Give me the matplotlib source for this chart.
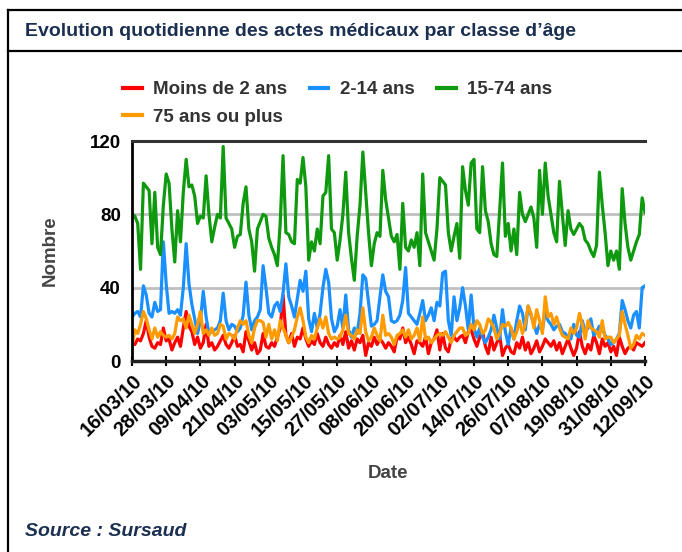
import matplotlib
matplotlib.use("Agg")
import matplotlib.pyplot as plt
from matplotlib.lines import Line2D
import numpy as np

# --- Données (une valeur par jour du 16/03/10 au 12/09/10) ---
debut = np.datetime64("2010-03-16")
fin = np.datetime64("2010-09-12")

moins_2_ans = [
    10, 9, 12, 11, 15, 22, 13, 8, 7, 10,
    9, 18, 11, 12, 6, 10, 13, 8, 18, 27,
    19, 16, 9, 13, 7, 10, 20, 8, 10, 6,
    8, 11, 14, 9, 7, 10, 14, 8, 9, 5,
    16, 11, 6, 10, 4, 6, 15, 8, 7, 10,
    8, 13, 18, 36, 14, 10, 15, 8, 13, 12,
    18, 12, 8, 11, 9, 15, 10, 8, 13, 9,
    7, 10, 8, 14, 9, 16, 7, 11, 6, 12,
    10, 14, 3, 10, 8, 13, 9, 12, 10, 7,
    10, 8, 5, 13, 12, 18, 10, 13, 9, 4,
    11, 10, 8, 13, 4, 10, 12, 17, 6, 15,
    7, 5, 12, 13, 11, 13, 14, 10, 16, 17,
    12, 8, 13, 16, 8, 4, 13, 6, 10, 14,
    3, 7, 9, 5, 4, 10, 7, 13, 6, 10,
    4, 7, 11, 5, 8, 12, 10, 8, 11, 6,
    10, 4, 8, 12, 7, 3, 7, 16, 8, 4,
    9, 6, 14, 10, 4, 12, 8, 10, 5, 8,
    3, 13, 8, 4, 7, 8, 6, 10, 9, 8, 10,
]
ans_2_14 = [
    24, 26, 27, 24, 41, 36, 26, 24, 32, 27,
    28, 65, 42, 26, 27, 26, 28, 25, 40, 64,
    42, 31, 23, 15, 22, 38, 24, 15, 16, 17,
    18, 22, 37, 22, 17, 20, 19, 16, 18, 25,
    43, 25, 17, 22, 24, 28, 52, 40, 26, 24,
    30, 32, 27, 37, 53, 35, 30, 24, 34, 44,
    38, 49, 23, 16, 26, 18, 26, 40, 50, 43,
    23, 16, 19, 28, 18, 36, 17, 13, 18, 15,
    26, 47, 45, 32, 19, 20, 22, 35, 47, 38,
    35, 22, 21, 22, 25, 33, 51, 26, 24, 22,
    20, 26, 33, 22, 25, 29, 22, 32, 30, 48,
    49, 22, 14, 35, 22, 29, 40, 30, 17, 36,
    18, 13, 18, 13, 10, 13, 17, 25, 18, 12,
    28, 16, 9, 18, 12, 22, 30, 26, 17, 30,
    25, 20, 15, 20, 17, 27, 22, 20, 17, 19,
    20, 16, 15, 13, 12, 20, 14, 13, 22, 16,
    18, 23, 14, 16, 19, 18, 14, 12, 9, 10,
    12, 15, 33, 28, 22, 18, 25, 27, 18, 40, 41,
]
ans_15_74 = [
    80, 79, 75, 50, 97, 95, 93, 64, 92, 62,
    58, 85, 102, 97, 72, 54, 82, 65, 92, 110,
    95, 96, 90, 75, 79, 78, 101, 80, 65, 73,
    80, 78, 117, 78, 75, 72, 62, 68, 69, 86,
    95, 72, 65, 49, 72, 76, 80, 79, 67, 62,
    58, 52, 75, 112, 70, 69, 65, 64, 99, 97,
    111, 95, 55, 65, 60, 72, 64, 90, 92, 112,
    72, 70, 55, 66, 80, 103, 70, 56, 44, 68,
    85, 114, 92, 70, 52, 64, 70, 68, 104, 88,
    78, 68, 65, 69, 50, 86, 62, 60, 66, 62,
    70, 52, 102, 70, 65, 60, 55, 72, 100, 98,
    96, 70, 60, 68, 75, 56, 106, 93, 85, 108,
    110, 72, 70, 106, 82, 76, 64, 58, 57, 82,
    108, 68, 75, 60, 72, 58, 92, 80, 76, 80,
    84, 78, 62, 104, 80, 108, 90, 80, 70, 65,
    98, 80, 63, 82, 72, 69, 72, 75, 73, 66,
    64, 60, 57, 63, 103, 85, 70, 52, 60, 55,
    60, 50, 94, 75, 62, 55, 60, 65, 69, 89, 81,
]
ans_75_plus = [
    8, 17, 15, 20, 27, 23, 17, 12, 18, 13,
    16, 14, 13, 14, 12, 15, 24, 22, 23, 18,
    25, 20, 15, 20, 27, 15, 17, 14, 18, 14,
    15, 20, 19, 12, 15, 14, 12, 18, 22, 20,
    22, 14, 10, 18, 22, 22, 21, 13, 20, 12,
    17, 11, 22, 18, 14, 10, 13, 17, 24, 29,
    22, 13, 10, 14, 12, 18, 23, 18, 24, 15,
    12, 13, 12, 13, 17, 25, 15, 14, 12, 17,
    15, 29, 16, 11, 13, 18, 14, 11, 25, 14,
    15, 13, 9, 14, 15, 17, 13, 17, 12, 14,
    18, 11, 24, 12, 13, 10, 12, 14, 15, 14,
    16, 13, 10, 14, 16, 18, 18, 14, 15, 20,
    17, 22, 20, 15, 17, 23, 21, 18, 12, 15,
    20, 19, 21, 18, 12, 16, 22, 15, 20, 30,
    26, 18, 28, 22, 15, 35, 24, 26, 20, 24,
    18, 14, 13, 12, 18, 15, 18, 26, 20, 12,
    22, 18, 17, 16, 13, 22, 12, 13, 13, 10,
    12, 14, 27, 20, 14, 7, 9, 14, 12, 15, 14,
]

series = [
    ("Moins de 2 ans", moins_2_ans, "#ff0000"),
    ("2-14 ans", ans_2_14, "#1a8fff"),
    ("15-74 ans", ans_15_74, "#0e990e"),
    ("75 ans ou plus", ans_75_plus, "#ff9a00"),
]

jours = np.arange(debut, fin + np.timedelta64(1, "D"))
x = np.arange(len(jours))
ticks = x[::12]
tick_labels = [str(j)[8:10] + "/" + str(j)[5:7] + "/" + str(j)[2:4] for j in jours[::12]]

plt.rcParams["font.family"] = ["Liberation Sans", "DejaVu Sans"]

W, H = 682, 552
fig = plt.figure(figsize=(W / 100, H / 100), dpi=100)

# cadre
fig.add_artist(Line2D([8 / W, 1], [1 - 10 / H] * 2, color="black", lw=1.6))
fig.add_artist(Line2D([8 / W, 1], [1 - 51 / H] * 2, color="black", lw=1.6))
fig.add_artist(Line2D([8 / W] * 2, [0, 1 - 10 / H], color="black", lw=1.6))

fig.text(25 / W, 1 - 31 / H, "Evolution quotidienne des actes médicaux par classe d\u2019âge",
         fontsize=14, fontweight="bold", color="#1b2f50", va="center", ha="left")
fig.text(25 / W, 1 - 531 / H, "Source : Sursaud", fontsize=14, fontweight="bold",
         fontstyle="italic", color="#1b2f50", va="center", ha="left")

ax = fig.add_axes([132 / W, 1 - 361 / H, (645 - 132) / W, (361 - 141) / H])

handles = {}
for nom, valeurs, couleur in series:
    (ligne,) = ax.plot(x, valeurs, color=couleur, lw=2.3, label=nom)
    handles[nom] = ligne

ax.set_xlim(0, len(x) - 1)
ax.set_ylim(0, 120)
ax.set_yticks([0, 40, 80, 120])
ax.set_xticks(ticks)
ax.set_xticklabels(tick_labels, rotation=45, ha="right", va="top", rotation_mode="anchor",
                   fontsize=14.5, fontweight="bold", color="black")
ax.tick_params(axis="x", direction="inout", length=7, width=1.5, pad=4)
ax.tick_params(axis="y", length=0, pad=8, labelsize=13.5, labelcolor="black")
for lab in ax.get_yticklabels():
    lab.set_fontweight("bold")

ax.grid(axis="y", color="#c0c0c0", lw=2)
ax.set_axisbelow(True)
ax.spines["right"].set_visible(False)
ax.spines["top"].set_color("#333333")
ax.spines["top"].set_linewidth(2.2)
ax.spines["left"].set_linewidth(2)
ax.spines["bottom"].set_linewidth(2.5)
ax.spines["bottom"].set_color("#222222")

ax.set_ylabel("Nombre", fontsize=13.5, fontweight="bold", color="#444444", labelpad=22)
fig.text(388 / W, 1 - 474 / H, "Date", fontsize=13.5, fontweight="bold", color="#444444",
         ha="center", va="center")

ordre = ["Moins de 2 ans", "75 ans ou plus", "2-14 ans", "15-74 ans"]
fig.legend([handles[n] for n in ordre], ordre, ncol=3, frameon=False,
           loc="upper left", bbox_to_anchor=(123 / W, 1 - 81 / H),
           prop={"size": 13.5, "weight": "bold"}, labelcolor="#333333",
           handlelength=1.0, handletextpad=0.6, columnspacing=1.2,
           labelspacing=0.55, borderpad=0, borderaxespad=0)
for ligne in fig.legends[0].get_lines():
    ligne.set_linewidth(3)

fig.savefig("out.png", dpi=100)
